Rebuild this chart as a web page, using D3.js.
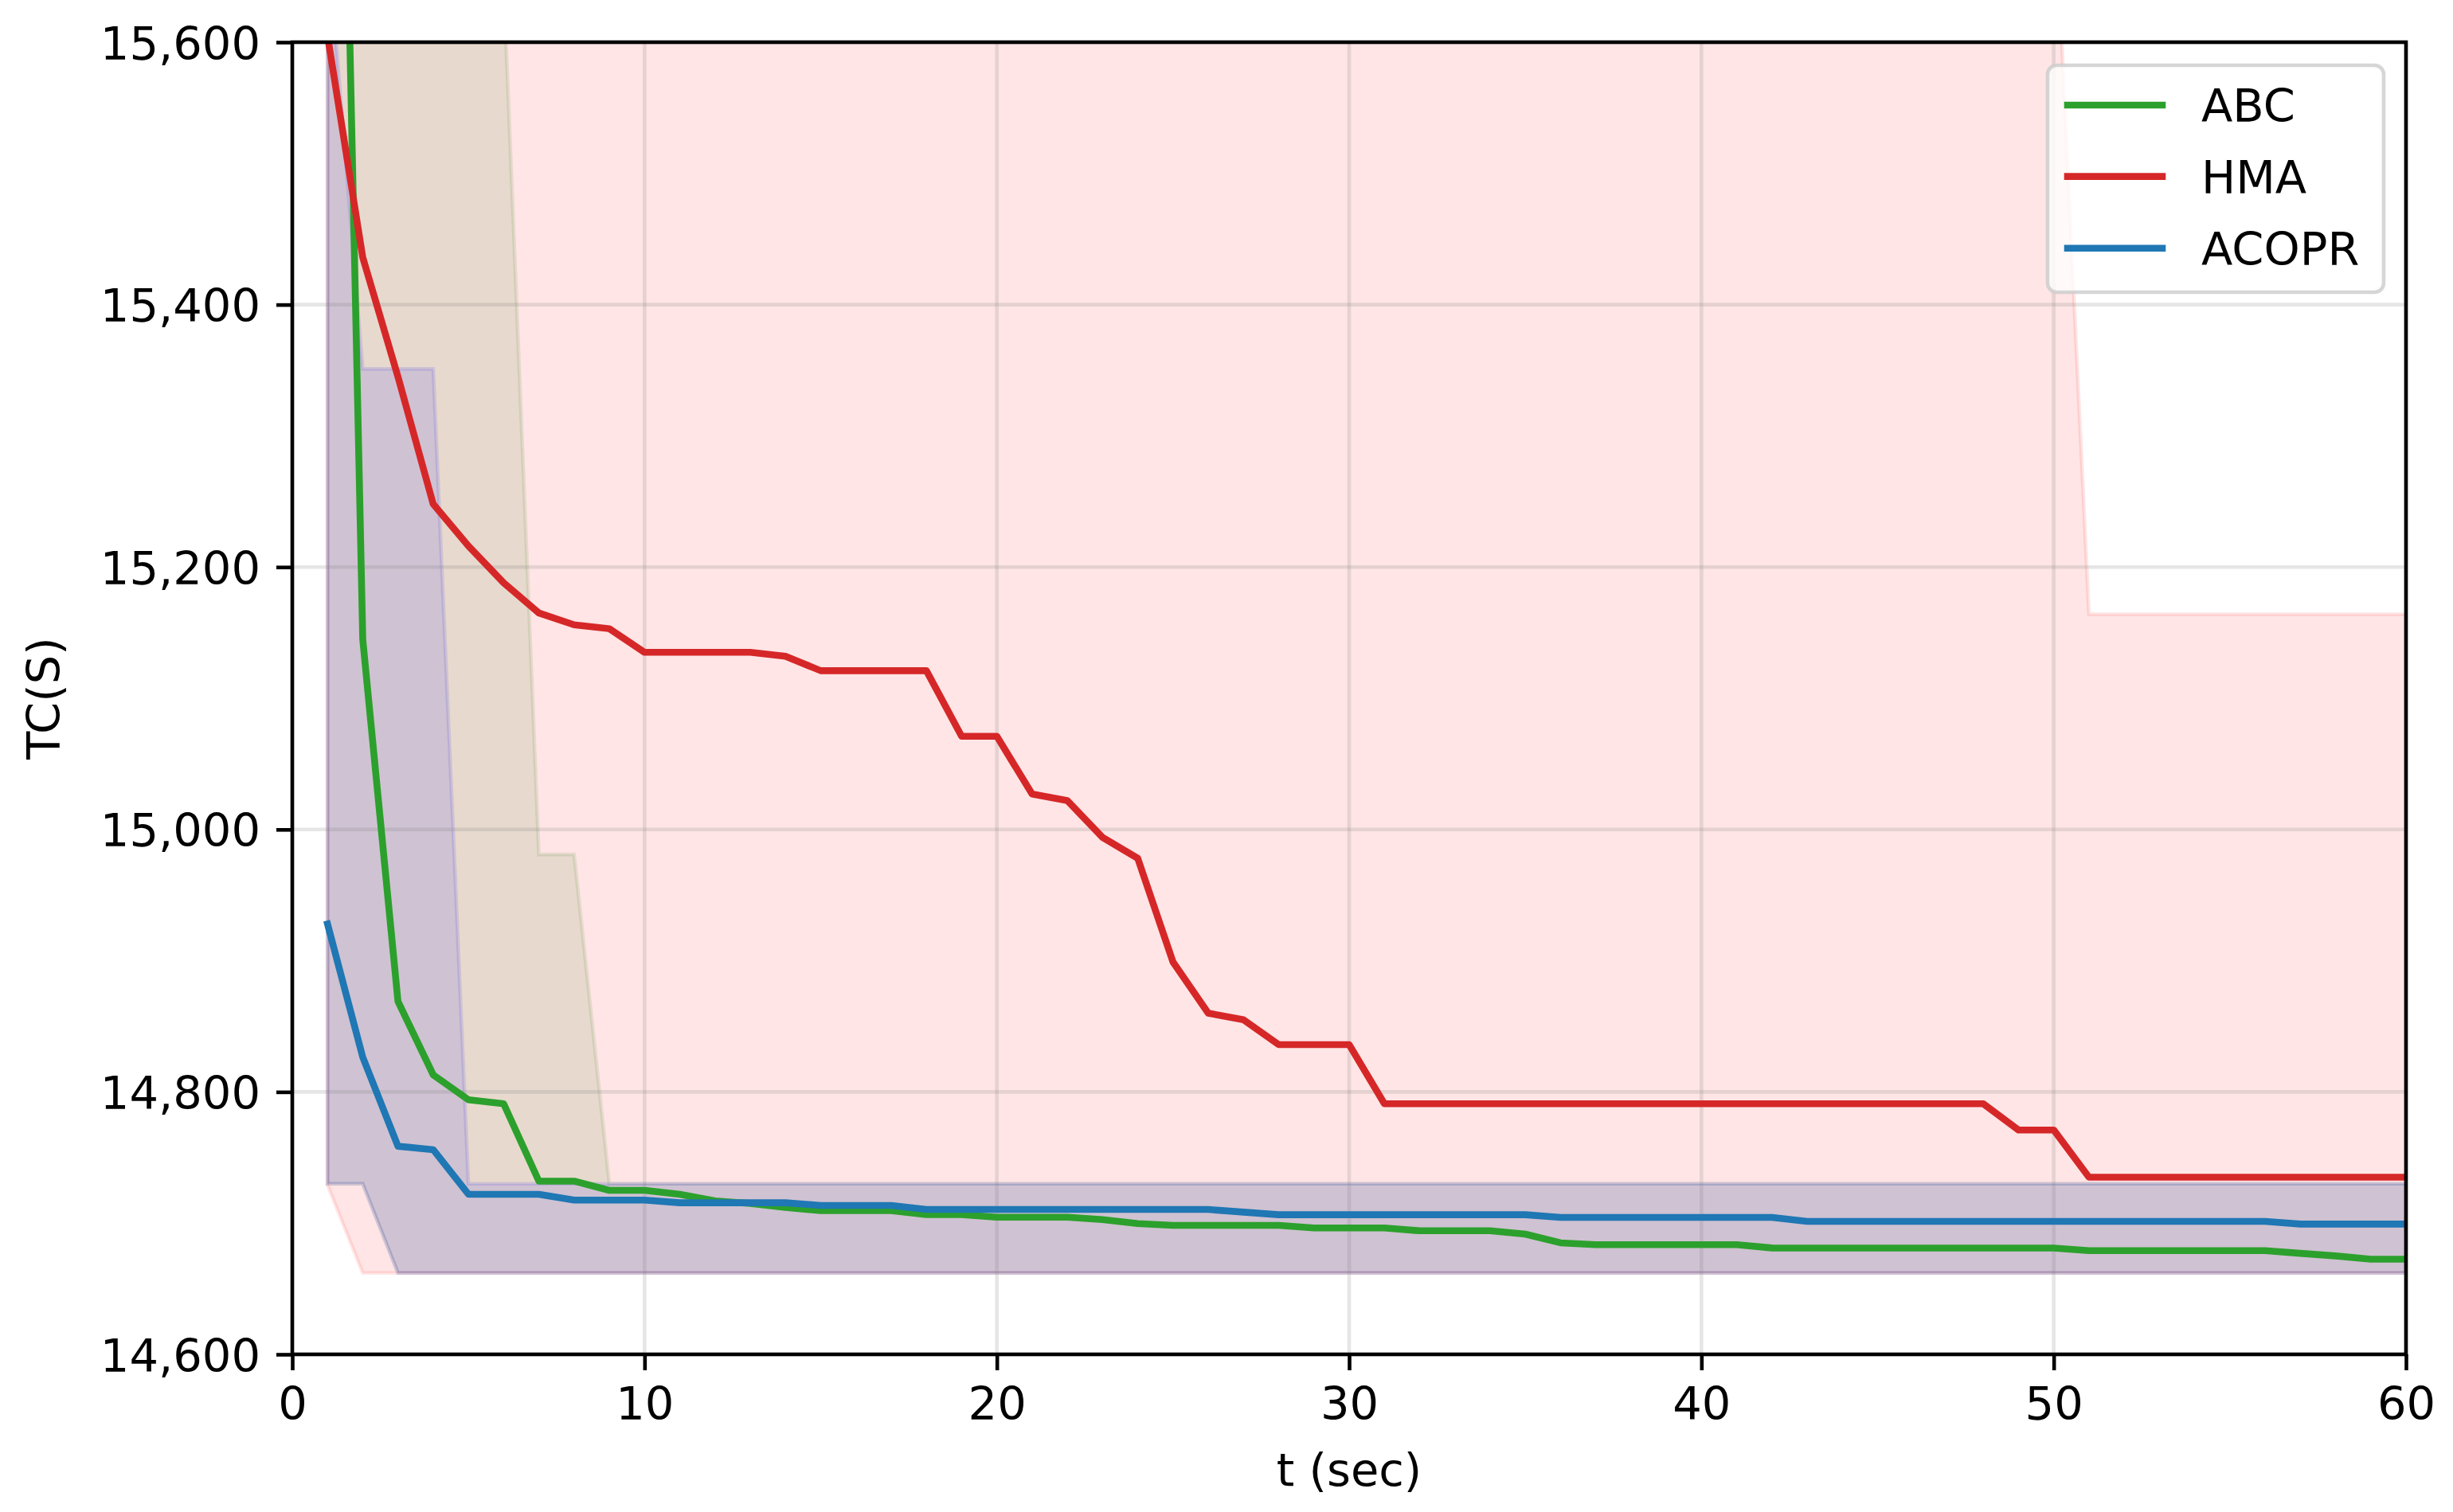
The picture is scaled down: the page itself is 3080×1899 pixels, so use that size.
<!DOCTYPE html>
<html>
<head>
<meta charset="utf-8">
<script src="https://cdn.jsdelivr.net/npm/d3@7/dist/d3.min.js"></script>
<style>
  html, body { margin: 0; padding: 0; background: #ffffff; }
  svg { display: block; }
  text { font-family: "DejaVu Sans", sans-serif; fill: #000; }
</style>
</head>
<body>
<svg id="chart" width="3080" height="1899"></svg>
<script>
// ---------------- DATA ----------------
const seriesNames = ["ABC", "HMA", "ACOPR"];
const tValues = d3.range(1, 61);

const abcMean = [16390, 15145, 14869, 14813, 14794, 14791, 14732, 14732, 14725, 14725,
  14722, 14717, 14715, 14712, 14709.5, 14709.5, 14709.5, 14706.5, 14706.5, 14704.5,
  14704.5, 14704.5, 14702.7, 14699.7, 14698.3, 14698.3, 14698.3, 14698.3, 14696.3, 14696.3,
  14696.3, 14694.2, 14694.2, 14694.2, 14691.6, 14685, 14683.6, 14683.6, 14683.6, 14683.6,
  14683.6, 14681.1, 14681, 14681, 14681, 14681, 14681, 14681, 14681, 14681,
  14679, 14679, 14679, 14679, 14679, 14679, 14677, 14675, 14672.5, 14672.5];

const hmaMean = [15605, 15436, 15345, 15248, 15216, 15188, 15165, 15156, 15153, 15135,
  15135, 15135, 15135, 15132, 15121, 15121, 15121, 15121, 15071, 15071,
  15027, 15022, 14994, 14978, 14899, 14860, 14855, 14836, 14836, 14836,
  14791, 14791, 14791, 14791, 14791, 14791, 14791, 14791, 14791, 14791,
  14791, 14791, 14791, 14791, 14791, 14791, 14791, 14791, 14771, 14771,
  14735, 14735, 14735, 14735, 14735, 14735, 14735, 14735, 14735, 14735];

const acoprMean = [14928, 14826.5, 14758.6, 14756, 14722, 14722, 14722, 14717.6, 14717.6, 14717.6,
  14715.5, 14715.5, 14715.5, 14715.5, 14713.5, 14713.5, 14713.5, 14710.4, 14710.4, 14710.4,
  14710.4, 14710.4, 14710.4, 14710.4, 14710.4, 14710.4, 14708.4, 14706.4, 14706.4, 14706.4,
  14706.4, 14706.4, 14706.4, 14706.4, 14706.4, 14704.4, 14704.4, 14704.4, 14704.4, 14704.4,
  14704.4, 14704.4, 14701.3, 14701.3, 14701.3, 14701.3, 14701.3, 14701.3, 14701.3, 14701.3,
  14701.3, 14701.3, 14701.3, 14701.3, 14701.3, 14701.3, 14699.3, 14699.3, 14699.3, 14699.3];

// band limits (min / max over runs)
const abcMax = [16600, 15700, 15700, 15700, 15700, 15645, 14981, 14981,
  14730, 14730, 14730, 14730, 14730, 14730, 14730, 14730, 14730, 14730, 14730, 14730,
  14730, 14730, 14730, 14730, 14730, 14730, 14730, 14730, 14730, 14730,
  14730, 14730, 14730, 14730, 14730, 14730, 14730, 14730, 14730, 14730,
  14730, 14730, 14730, 14730, 14730, 14730, 14730, 14730, 14730, 14730,
  14730, 14730, 14730, 14730, 14730, 14730, 14730, 14730, 14730, 14730];
const abcMin = [14730, 14730, 14662, 14662, 14662, 14662, 14662, 14662, 14662, 14662,
  14662, 14662, 14662, 14662, 14662, 14662, 14662, 14662, 14662, 14662,
  14662, 14662, 14662, 14662, 14662, 14662, 14662, 14662, 14662, 14662,
  14662, 14662, 14662, 14662, 14662, 14662, 14662, 14662, 14662, 14662,
  14662, 14662, 14662, 14662, 14662, 14662, 14662, 14662, 14662, 14662,
  14662, 14662, 14662, 14662, 14662, 14662, 14662, 14662, 14662, 14662];

const hmaMax = [15850, 15730, 15730, 15730, 15730, 15730, 15730, 15730, 15730, 15730,
  15730, 15730, 15730, 15730, 15730, 15730, 15730, 15730, 15730, 15730,
  15730, 15730, 15730, 15730, 15730, 15730, 15730, 15730, 15730, 15730,
  15730, 15730, 15730, 15730, 15730, 15730, 15730, 15730, 15730, 15730,
  15730, 15730, 15730, 15730, 15730, 15730, 15730, 15730, 15730, 15730,
  15164, 15164, 15164, 15164, 15164, 15164, 15164, 15164, 15164, 15164];
const hmaMin = [14729, 14662, 14662, 14662, 14662, 14662, 14662, 14662, 14662, 14662,
  14662, 14662, 14662, 14662, 14662, 14662, 14662, 14662, 14662, 14662,
  14662, 14662, 14662, 14662, 14662, 14662, 14662, 14662, 14662, 14662,
  14662, 14662, 14662, 14662, 14662, 14662, 14662, 14662, 14662, 14662,
  14662, 14662, 14662, 14662, 14662, 14662, 14662, 14662, 14662, 14662,
  14662, 14662, 14662, 14662, 14662, 14662, 14662, 14662, 14662, 14662];

const acoprMax = [15680, 15351, 15351, 15351,
  14730, 14730, 14730, 14730, 14730, 14730, 14730, 14730, 14730, 14730, 14730, 14730,
  14730, 14730, 14730, 14730, 14730, 14730, 14730, 14730, 14730, 14730, 14730, 14730,
  14730, 14730, 14730, 14730, 14730, 14730, 14730, 14730, 14730, 14730, 14730, 14730,
  14730, 14730, 14730, 14730, 14730, 14730, 14730, 14730, 14730, 14730, 14730, 14730,
  14730, 14730, 14730, 14730, 14730, 14730, 14730, 14730];
const acoprMin = abcMin.slice();

const xTicks = [0, 10, 20, 30, 40, 50, 60];
const yTicks = [14600, 14800, 15000, 15200, 15400, 15600];
const xLabel = "t (sec)";
const yLabel = "TC(S)";

// ---------------- LAYOUT ----------------
const plot = { left: 367, right: 3021, top: 53, bottom: 1701 };
const FS = 57.5;          // font size px
const LW = 8.6;           // line width
const SPINE = 4.6;
const TICK = 20;

const lineColors = { ABC: "#2ca02c", HMA: "#d62728", ACOPR: "#1f77b4" };
const fillColors = { ABC: "#008000", HMA: "#ff0000", ACOPR: "#0000ff" };

const x = d3.scaleLinear().domain([0, 60]).range([plot.left, plot.right]);
const y = d3.scaleLinear().domain([14600, 15600]).range([plot.bottom, plot.top]);

const series = [
  { name: "ABC", mean: abcMean, lo: abcMin, hi: abcMax },
  { name: "HMA", mean: hmaMean, lo: hmaMin, hi: hmaMax },
  { name: "ACOPR", mean: acoprMean, lo: acoprMin, hi: acoprMax }
];

const svg = d3.select("#chart");

svg.append("defs").append("clipPath").attr("id", "plotclip")
  .append("rect")
  .attr("x", plot.left).attr("y", plot.top)
  .attr("width", plot.right - plot.left).attr("height", plot.bottom - plot.top);

const g = svg.append("g").attr("clip-path", "url(#plotclip)");

// bands
const area = d3.area()
  .x((d, i) => x(tValues[i]))
  .y0(d => y(d[0]))
  .y1(d => y(d[1]));

series.forEach(s => {
  const pts = s.lo.map((v, i) => [v, s.hi[i]]);
  g.append("path")
    .datum(pts)
    .attr("d", area)
    .attr("fill", fillColors[s.name])
    .attr("fill-opacity", 0.1)
    .attr("stroke", fillColors[s.name])
    .attr("stroke-opacity", 0.1)
    .attr("stroke-width", 4.6)
    .attr("stroke-linejoin", "miter");
});

// grid
const grid = svg.append("g");
xTicks.forEach(t => {
  grid.append("line")
    .attr("x1", x(t)).attr("x2", x(t))
    .attr("y1", plot.top).attr("y2", plot.bottom)
    .attr("stroke", "#808080").attr("stroke-opacity", 0.2).attr("stroke-width", 4.6);
});
yTicks.forEach(v => {
  grid.append("line")
    .attr("x1", plot.left).attr("x2", plot.right)
    .attr("y1", y(v)).attr("y2", y(v))
    .attr("stroke", "#808080").attr("stroke-opacity", 0.2).attr("stroke-width", 4.6);
});

// mean lines
const line = d3.line()
  .x((d, i) => x(tValues[i]))
  .y(d => y(d));

const g2 = svg.append("g").attr("clip-path", "url(#plotclip)");
series.forEach(s => {
  g2.append("path")
    .datum(s.mean)
    .attr("d", line)
    .attr("fill", "none")
    .attr("stroke", lineColors[s.name])
    .attr("stroke-width", LW)
    .attr("stroke-linejoin", "round")
    .attr("stroke-linecap", "square");
});

// axes
const xAxis = d3.axisBottom(x).tickValues(xTicks).tickSize(TICK).tickPadding(20)
  .tickFormat(d3.format("d"));
const yAxis = d3.axisLeft(y).tickValues(yTicks).tickSize(TICK).tickPadding(20)
  .tickFormat(d3.format(","));

const gx = svg.append("g").attr("transform", `translate(0,${plot.bottom})`).call(xAxis);
const gy = svg.append("g").attr("transform", `translate(${plot.left},0)`).call(yAxis);

[gx, gy].forEach(ax => {
  ax.select(".domain").remove();
  ax.selectAll(".tick line").attr("stroke", "#000").attr("stroke-width", SPINE);
  ax.selectAll(".tick text")
    .style("font-family", "'DejaVu Sans', sans-serif")
    .style("font-size", FS + "px")
    .attr("fill", "#000");
});
gx.selectAll(".tick text").attr("dy", null).attr("y", TICK + 20 + 42);
gy.selectAll(".tick text").attr("dy", null).attr("y", 21);

// spines
svg.append("rect")
  .attr("x", plot.left).attr("y", plot.top)
  .attr("width", plot.right - plot.left).attr("height", plot.bottom - plot.top)
  .attr("fill", "none").attr("stroke", "#000").attr("stroke-width", SPINE);

// axis labels
svg.append("text")
  .attr("x", (plot.left + plot.right) / 2).attr("y", 1866)
  .attr("text-anchor", "middle")
  .style("font-size", FS + "px")
  .text(xLabel);

svg.append("text")
  .attr("transform", `translate(75,${(plot.top + plot.bottom) / 2}) rotate(-90)`)
  .attr("text-anchor", "middle")
  .style("font-size", FS + "px")
  .text(yLabel);

// legend
const leg = svg.append("g");
const legBox = { x: 2571, y: 82, w: 422, h: 285 };
leg.append("rect")
  .attr("x", legBox.x).attr("y", legBox.y)
  .attr("width", legBox.w).attr("height", legBox.h)
  .attr("rx", 11.5).attr("ry", 11.5)
  .attr("fill", "#ffffff").attr("fill-opacity", 0.8)
  .attr("stroke", "#cccccc").attr("stroke-opacity", 0.8).attr("stroke-width", 4.6);

const rowY = [132, 221.6, 311.7];
seriesNames.forEach((name, i) => {
  leg.append("line")
    .attr("x1", 2596).attr("x2", 2715)
    .attr("y1", rowY[i]).attr("y2", rowY[i])
    .attr("stroke", lineColors[name]).attr("stroke-width", LW)
    .attr("stroke-linecap", "square");
  leg.append("text")
    .attr("x", 2764).attr("y", rowY[i] + 21)
    .style("font-size", FS + "px")
    .text(name);
});
</script>
</body>
</html>
